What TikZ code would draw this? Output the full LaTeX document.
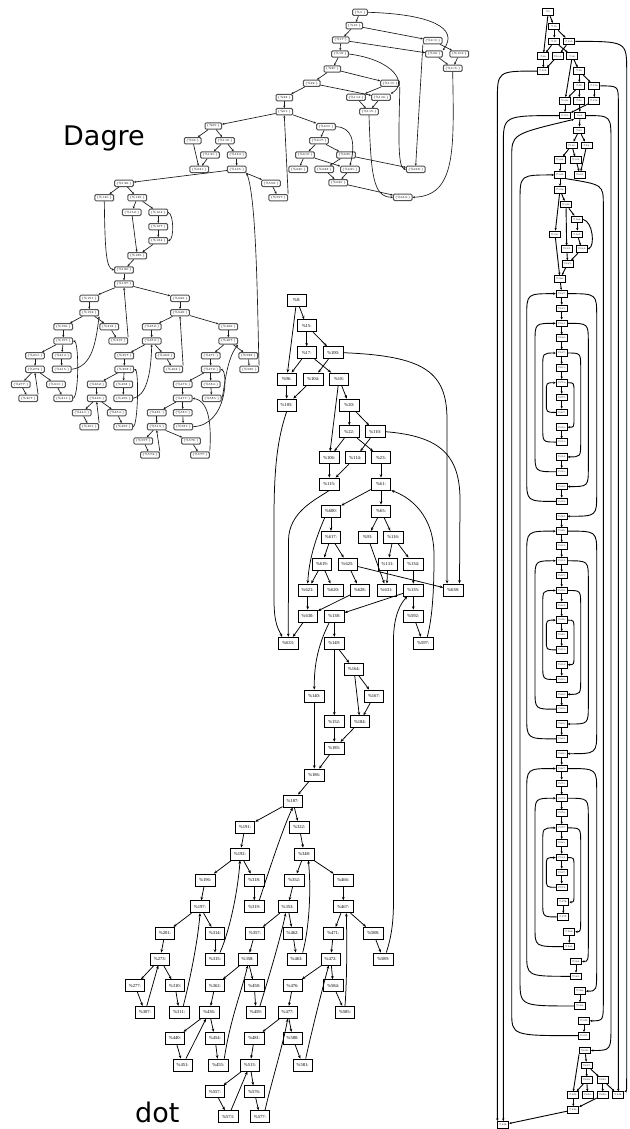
\documentclass[tikz,border=0pt]{standalone}
\usepackage{fontspec}
\usetikzlibrary{arrows.meta,calc}
\newfontfamily\labfont{DejaVu Sans}
\newfontfamily\dotfont{Liberation Serif}
\tikzset{
  dotnode/.style={draw, line width=0.9pt, fill=white, minimum width=19.5pt, minimum height=12pt, inner sep=0pt, font=\dotfont\fontsize{4.6}{5}\selectfont},
  dagnode/.style={draw=black!68, line width=1pt, rounded corners=1.2pt, fill=white, minimum height=6.4pt, inner xsep=1.8pt, inner ysep=0pt, font=\fontsize{3}{3}\selectfont},
  rnode/.style={draw, line width=0.9pt, fill=white, minimum width=11pt, minimum height=6.6pt, inner sep=0pt, font=\fontsize{2.3}{2.5}\selectfont},
  dotedge/.style={-{Stealth[length=3.3pt,width=2.7pt]}, line width=0.75pt},
  dagedge/.style={-{Stealth[length=2.3pt,width=2.1pt]}, line width=0.65pt, draw=black!90},
  redge/.style={-{Stealth[length=2.5pt,width=2.3pt]}, line width=0.9pt},
  bigtext/.style={font=\labfont\fontsize{27}{30}\selectfont, inner sep=0pt}
}
\newcommand\DotN[3]{\node[dotnode] (d#1) at (#2,#3) {\%#1:};}
\newcommand\DagN[3]{\node[dagnode] (g#1) at (#2,#3) {\{\%#1:\}};}
\newcommand\RtN[3]{\node[rnode] (r#1) at (#2,{11.7+#3*14.84}) {\%#1:};}
% left loop: from lower node #1 up to upper node #2 along lane #3, corner depth #4
\newcommand\RLft[4]{\draw[redge] (r#1.west) .. controls (#3 |- r#1.west) .. ($(#3 |- r#1.west)+(0,-#4)$) -- ($(#3 |- r#2.west)+(0,#4)$) .. controls (#3 |- r#2.west) .. (r#2.west);}
% right loop: from upper node #1 down to lower node #2 along lane #3
\newcommand\RRgt[4]{\draw[redge] (r#1.east) .. controls (#3 |- r#1.east) .. ($(#3 |- r#1.east)+(0,#4)$) -- ($(#3 |- r#2.east)+(0,-#4)$) .. controls (#3 |- r#2.east) .. (r#2.east);}
\begin{document}
\begin{tikzpicture}[x=1pt,y=-1pt]
\useasboundingbox (0,0) rectangle (629,1129);
\fill[white] (0,0) rectangle (629,1129);

% ---------- captions ----------
\node[bigtext, anchor=base west] (tdagre) at (63,146) {Dagre};
\node[bigtext, anchor=base west] (tdot) at (135,1122) {dot};

% ---------- Dagre layout ----------
\DagN{0}{360}{12.3}
\DagN{15}{354.3}{25.7}
\DagN{17}{340.7}{40}
\DagN{100}{432.7}{40.7}
\DagN{18}{340}{54}
\DagN{96}{434}{54}
\DagN{104}{459.3}{54}
\DagN{105}{452.7}{68.3}
\DagN{20}{332.3}{69}
\DagN{22}{311.7}{83.3}
\DagN{110}{390}{83.3}
\DagN{23}{284.3}{97.7}
\DagN{114}{356}{97.3}
\DagN{106}{381}{97.3}
\DagN{61}{284.3}{111.7}
\DagN{115}{369}{111.7}
\DagN{600}{326}{126.7}
\DagN{65}{213.3}{126}
\DagN{617}{319}{140.7}
\DagN{93}{192.7}{140.7}
\DagN{116}{225}{140.7}
\DagN{619}{305}{155}
\DagN{625}{346}{155}
\DagN{131}{210}{155}
\DagN{134}{236.7}{155}
\DagN{620}{298.3}{169.3}
\DagN{628}{324.3}{169.3}
\DagN{621}{350}{169.3}
\DagN{638}{415.7}{169.3}
\DagN{631}{199.3}{169.3}
\DagN{135}{236.7}{169.3}
\DagN{630}{338.3}{182.7}
\DagN{138}{124}{183.3}
\DagN{592}{271}{183.3}
\DagN{633}{402.7}{197.3}
\DagN{140}{104.3}{197.7}
\DagN{149}{137.3}{197.7}
\DagN{597}{278.3}{197.7}
\DagN{152}{131.7}{212.3}
\DagN{164}{158.3}{212.3}
\DagN{167}{158.3}{226.7}
\DagN{184}{158.3}{240.7}
\DagN{185}{137.3}{255.7}
\DagN{186}{124}{270}
\DagN{187}{124}{284}
\DagN{191}{89.3}{298.3}
\DagN{322}{180}{298.3}
\DagN{192}{89.3}{312.7}
\DagN{348}{180}{312.7}
\DagN{196}{63.3}{326.7}
\DagN{318}{109.3}{326.7}
\DagN{352}{151.7}{326.7}
\DagN{466}{228.3}{326.7}
\DagN{197}{63.3}{341}
\DagN{319}{118.3}{341}
\DagN{353}{151.7}{341}
\DagN{467}{228.3}{341}
\DagN{201}{35}{355.7}
\DagN{314}{61.7}{355.7}
\DagN{357}{124.3}{355.7}
\DagN{462}{165}{355.7}
\DagN{471}{210.7}{355.7}
\DagN{588}{248.3}{355.7}
\DagN{273}{35}{369.3}
\DagN{315}{61.7}{369.3}
\DagN{358}{124.3}{369.3}
\DagN{463}{173.3}{369.3}
\DagN{472}{210.7}{369.3}
\DagN{589}{249.3}{369.3}
\DagN{277}{20.7}{384.3}
\DagN{310}{56}{384.3}
\DagN{362}{96.7}{384.3}
\DagN{458}{123.3}{384.3}
\DagN{476}{182.7}{384.3}
\DagN{584}{210.7}{384.3}
\DagN{307}{28.3}{398.3}
\DagN{311}{63.3}{398.3}
\DagN{436}{96.7}{398.3}
\DagN{459}{123.3}{398.3}
\DagN{477}{182.7}{398.3}
\DagN{585}{211.7}{398.3}
\DagN{440}{81.7}{412.7}
\DagN{454}{116.7}{412.7}
\DagN{481}{156.7}{412.7}
\DagN{580}{182.7}{412.7}
\DagN{451}{89.3}{426.7}
\DagN{455}{123.3}{426.7}
\DagN{513}{156.7}{426.7}
\DagN{581}{183.3}{426.7}
\DagN{557}{143.3}{441}
\DagN{576}{191}{441}
\DagN{573}{150}{455}
\DagN{577}{200}{455}

\foreach \a/\b in {0/15, 15/17, 15/100, 17/18, 17/96, 100/104, 96/105, 104/105, 18/20, 20/22, 20/110, 22/23, 22/106, 110/114, 106/115, 114/115, 23/61, 61/600, 61/65, 600/617, 617/619, 617/625, 619/620, 619/621, 625/628, 625/638, 621/630, 628/630, 630/633, 65/93, 65/116, 93/631, 116/131, 116/134, 131/631, 134/135, 135/138, 135/592, 592/597, 138/140, 138/149, 149/152, 149/164, 164/167, 167/184, 152/185, 184/185, 185/186, 186/187, 187/191, 187/322, 191/192, 192/196, 192/318, 318/319, 196/197, 197/201, 197/314, 201/273, 314/315, 273/277, 273/310, 277/307, 310/311, 322/348, 348/352, 348/466, 352/353, 353/357, 353/462, 462/463, 357/358, 358/362, 358/458, 458/459, 362/436, 436/440, 436/454, 440/451, 454/455, 466/467, 467/471, 467/588, 471/472, 588/589, 472/476, 472/584, 584/585, 476/477, 477/481, 477/580, 580/581, 481/513, 513/557, 513/576, 557/573, 576/577}
  \draw[dagedge] (g\a) -- (g\b);
\foreach \a/\b in {319/187, 307/273, 463/348, 451/436, 573/513, 597/61}
  \draw[dagedge] (g\a.north east) -- (g\b.south);
\draw[dagedge] (g100.south west) -- (g638.north);
\draw[dagedge] (g0.east) .. controls (430,14) and (460,28) .. (g96.north east);
\draw[dagedge] (g18.east) .. controls (395,60) and (408,84) .. (g106.north east);
\draw[dagedge] (g105.south) .. controls (454,150) and (456,196) .. (g633.east);
\draw[dagedge] (g110.south east) .. controls (399,130) and (397,168) .. (g638.west);
\draw[dagedge] (g115.south) .. controls (371,175) and (373,197) .. (g633.west);
\draw[dagedge] (g600.east) .. controls (352,127) and (356,142) .. (g621.north);
\draw[dagedge] (g164.east) .. controls (174,214) and (174,239) .. (g184.east);
\draw[dagedge] (g140.south) .. controls (105,250) and (106,268) .. (g186.west);
\draw[dagedge] (g589.north east) .. controls (257.5,330) and (257.5,200) .. (g135.south east);
\draw[dagedge] (g315.east) .. controls (93,367) and (96,340) .. (g192.south east);
\draw[dagedge] (g311.east) .. controls (79,397) and (79,342) .. (g197.east);
\draw[dagedge] (g459.east) .. controls (146,396) and (151,375) .. (g353.south);
\draw[dagedge] (g455.east) .. controls (138,426) and (139,371) .. (g358.east);
\draw[dagedge] (g585.east) .. controls (224,397) and (225,360) .. (g467.south east);
\draw[dagedge] (g581.east) .. controls (228,425) and (228,371) .. (g472.east);
\draw[dagedge] (g577.north east) .. controls (211,430) and (211,401) .. (g477.east);

% ---------- dot layout ----------
\DotN{0}{296.7}{300}
\DotN{15}{306.7}{325.7}
\DotN{17}{306.7}{352.7}
\DotN{100}{333.3}{352.7}
\DotN{96}{286.7}{379}
\DotN{104}{313.3}{379}
\DotN{18}{339}{379}
\DotN{105}{286.7}{405}
\DotN{20}{349.3}{405}
\DotN{22}{349.3}{431.7}
\DotN{110}{375.3}{431.7}
\DotN{106}{329.3}{457.7}
\DotN{114}{355.3}{457.7}
\DotN{23}{381}{457.7}
\DotN{115}{329.3}{484}
\DotN{61}{381}{484}
\DotN{600}{331}{511}
\DotN{65}{381}{511}
\DotN{617}{331}{537.3}
\DotN{93}{367.7}{537.3}
\DotN{116}{393.3}{537.3}
\DotN{619}{322}{564}
\DotN{625}{347.7}{564}
\DotN{131}{387.7}{564}
\DotN{134}{413.3}{564}
\DotN{621}{307.7}{590}
\DotN{620}{333.3}{590}
\DotN{628}{360}{590}
\DotN{631}{386.7}{590}
\DotN{135}{413.3}{590}
\DotN{638}{453.3}{590}
\DotN{630}{307.7}{616}
\DotN{138}{334.3}{616}
\DotN{592}{413.3}{616}
\DotN{633}{288.3}{643.3}
\DotN{149}{334.3}{643.3}
\DotN{597}{423.3}{643.3}
\DotN{164}{354}{669.3}
\DotN{140}{314.3}{696}
\DotN{167}{374}{696}
\DotN{152}{334.3}{721.7}
\DotN{184}{360}{721.7}
\DotN{185}{334.3}{748.3}
\DotN{186}{314.3}{775}
\DotN{187}{292.7}{801}
\DotN{191}{245}{827.3}
\DotN{322}{299.3}{827.3}
\DotN{192}{240}{854}
\DotN{348}{304.3}{854}
\DotN{196}{205.3}{880}
\DotN{318}{254.3}{880}
\DotN{352}{294.3}{880}
\DotN{466}{343.3}{880}
\DotN{197}{200}{906.7}
\DotN{319}{254.3}{906.7}
\DotN{353}{287.7}{906.7}
\DotN{467}{343.3}{906.7}
\DotN{201}{165}{933.3}
\DotN{314}{215}{933.3}
\DotN{357}{255}{933.3}
\DotN{462}{292.7}{933.3}
\DotN{471}{333.3}{933.3}
\DotN{588}{373.3}{933.3}
\DotN{273}{160}{959}
\DotN{315}{215}{959}
\DotN{358}{247.7}{959}
\DotN{463}{296.7}{959}
\DotN{472}{330.7}{959}
\DotN{589}{383.3}{959}
\DotN{277}{135}{985.7}
\DotN{310}{175}{985.7}
\DotN{362}{215}{985.7}
\DotN{458}{254.3}{985.7}
\DotN{476}{292.7}{985.7}
\DotN{584}{333.3}{985.7}
\DotN{307}{145}{1012.3}
\DotN{311}{179.3}{1012.3}
\DotN{436}{209.3}{1012.3}
\DotN{459}{256}{1012.3}
\DotN{477}{287.7}{1012.3}
\DotN{585}{345}{1012.3}
\DotN{440}{175}{1038.3}
\DotN{454}{215}{1038.3}
\DotN{481}{254.3}{1038.3}
\DotN{580}{292.7}{1038.3}
\DotN{451}{182.7}{1065}
\DotN{455}{218.3}{1065}
\DotN{513}{250}{1065}
\DotN{581}{302.7}{1065}
\DotN{557}{215}{1091.7}
\DotN{576}{254.3}{1091.7}
\DotN{573}{228.3}{1116.7}
\DotN{577}{260}{1116.7}

\foreach \a/\b in {0/15, 0/96, 15/17, 15/100, 17/96, 17/18, 100/104, 96/105, 104/105, 18/20, 18/106, 20/22, 20/110, 22/106, 22/23, 110/114, 106/115, 114/115, 23/61, 61/600, 61/65, 600/617, 65/93, 65/116, 617/619, 617/625, 93/631, 116/131, 116/134, 619/621, 619/620, 625/628, 625/638, 131/631, 134/135, 621/630, 628/630, 135/138, 135/592, 630/633, 138/149, 592/597, 149/164, 149/152, 164/167, 164/184, 167/184, 152/185, 184/185, 140/186, 185/186, 186/187, 187/191, 187/322, 191/192, 192/196, 192/318, 318/319, 196/197, 197/201, 197/314, 201/273, 314/315, 273/277, 273/310, 277/307, 307/273, 310/311, 322/348, 348/352, 348/466, 352/353, 353/357, 353/462, 357/358, 462/463, 358/362, 358/458, 458/459, 362/436, 436/440, 436/454, 440/451, 451/436, 454/455, 466/467, 467/471, 467/588, 471/472, 588/589, 472/476, 472/584, 584/585, 476/477, 477/481, 477/580, 580/581, 481/513, 513/557, 513/576, 557/573, 573/513, 576/577}
  \draw[dotedge] (d\a) -- (d\b);
\draw[dotedge] (d100.east) .. controls (425,356) and (447,372) .. (447,420) -- ([xshift=4pt]d638.north west);
\draw[dotedge] (d110.east) .. controls (440,436) and (460,455) .. (460,500) -- ([xshift=-4pt]d638.north east);
\draw[dotedge] (d105.south) .. controls (277,440) and (274,470) .. (274,520) -- (274,600) .. controls (274,625) and (279,630) .. ([xshift=4pt]d633.north west);
\draw[dotedge] (d115.south) .. controls (315,500) and (289,512) .. (288.5,540) -- (d633.north);
\draw[dotedge] ([xshift=4pt]d600.south west) .. controls (315,540) and (309,560) .. (d621.north);
\draw[dotedge] ([xshift=4pt]d597.north) .. controls (433,615) and (434,585) .. (434,555) .. controls (434,515) and (410,497) .. (d61.south east);
\draw[dotedge] ([xshift=3pt]d589.north) .. controls (392,935) and (393.5,920) .. (393.5,900) -- (393.5,640) .. controls (393.5,615) and (401,603) .. ([xshift=-6pt]d135.south);
\draw[dotedge] ([xshift=5pt]d319.north) .. controls (266,880) and (282,830) .. (d187.south);
\draw[dotedge] ([xshift=5pt]d315.north) .. controls (230,930) and (238,890) .. (d192.south);
\draw[dotedge] ([xshift=4pt]d311.north) .. controls (190,980) and (198,940) .. (d197.south);
\draw[dotedge] ([xshift=6pt]d463.north) .. controls (310,925) and (311,885) .. ([xshift=4pt]d348.south);
\draw[dotedge] ([xshift=4pt]d459.north) .. controls (268,980) and (280,940) .. ([xshift=-2pt]d353.south);
\draw[dotedge] ([xshift=6pt]d455.north) .. controls (230,1020) and (242,990) .. (d358.south);
\draw[dotedge] (d585.north) .. controls (347,980) and (347,940) .. ([xshift=3pt]d467.south);
\draw[dotedge] ([xshift=3pt]d581.north) .. controls (312,1030) and (322,990) .. ([xshift=-2pt]d472.south);
\draw[dotedge] ([xshift=5pt]d577.north) .. controls (272,1080) and (283,1045) .. (d477.south);
\draw[dotedge] ([xshift=-5pt]d138.south) .. controls (318,645) and (314,665) .. (d140.north);

% ---------- right (tall) layout ----------
\coordinate (LA) at (526.7,0);
\coordinate (LB) at (535,0);
\coordinate (LC) at (542.7,0);
\coordinate (LD) at (546.3,0);
\coordinate (LE) at (520,0);
\coordinate (LF) at (511.7,0);
\coordinate (RA) at (596.7,0);
\coordinate (RB) at (588.3,0);
\coordinate (RC) at (580.7,0);
\coordinate (RD) at (574,0);
\coordinate (RE) at (603.3,0);
\coordinate (RF) at (611,0);
\coordinate (RH) at (626.7,0);

\RtN{0}{548.3}{0}
\RtN{15}{554.3}{1}
\RtN{17}{554.3}{2} \RtN{100}{569.3}{2}
\RtN{96}{543.3}{3} \RtN{104}{557.7}{3} \RtN{18}{572.3}{3}
\RtN{105}{543.3}{4} \RtN{20}{579.3}{4}
\RtN{22}{579.3}{5} \RtN{110}{594.3}{5}
\RtN{106}{565}{6} \RtN{23}{579.3}{6} \RtN{114}{594.3}{6}
\RtN{115}{565}{7} \RtN{61}{580}{7}
\RtN{65}{579.3}{8}
\RtN{116}{571.7}{9} \RtN{93}{586.7}{9}
\RtN{134}{560}{10} \RtN{131}{576}{10}
\RtN{135}{560}{11} \RtN{631}{580}{11}
\RtN{138}{560}{12}
\RtN{149}{566}{13}
\RtN{164}{577.3}{14}
\RtN{140}{555}{15} \RtN{167}{577.3}{15}
\RtN{152}{566.7}{16} \RtN{184}{581.7}{16}
\RtN{185}{567.7}{17}
\RtN{186}{560}{18}
\foreach \n [count=\i from 19] in {187,191,192,196,197,201,273,277,307,310,311,314,315,318,319,322,348,352,353,357,358,362,436,440,451,454,455,458,459,462,463,466,467,471,472,476,477,481,513,557,573}
  {\RtN{\n}{561.7}{\i}}
\RtN{576}{563.3}{60} \RtN{577}{563.3}{61}
\RtN{580}{569.3}{62} \RtN{581}{569.3}{63}
\RtN{584}{576}{64} \RtN{585}{576}{65}
\RtN{588}{580}{66} \RtN{589}{580}{67}
\RtN{592}{584}{68} \RtN{597}{584}{69}
\RtN{600}{585}{70}
\RtN{617}{586.7}{71}
\RtN{619}{586.7}{72} \RtN{625}{602.7}{72}
\RtN{621}{573.3}{73} \RtN{620}{587.7}{73} \RtN{628}{602.7}{73} \RtN{638}{618.3}{73}
\RtN{630}{573.3}{74}
\RtN{633}{503.3}{75}

\foreach \a/\b in {0/15, 0/96, 15/17, 15/100, 17/96, 17/18, 100/104, 96/105, 104/105, 18/20, 18/106, 20/22, 20/110, 22/106, 22/23, 110/114, 114/115, 106/115, 23/61, 61/65, 65/116, 65/93, 116/134, 116/131, 131/631, 93/631, 134/135, 135/138, 138/149, 138/140, 149/164, 149/152, 164/167, 167/184, 152/185, 184/185, 140/186, 185/186, 186/187, 187/191, 191/192, 192/196, 196/197, 197/201, 201/273, 273/277, 277/307, 310/311, 314/315, 318/319, 322/348, 348/352, 352/353, 353/357, 357/358, 358/362, 362/436, 436/440, 440/451, 454/455, 458/459, 462/463, 466/467, 467/471, 471/472, 472/476, 476/477, 477/481, 481/513, 513/557, 557/573, 576/577, 580/581, 584/585, 588/589, 592/597, 600/617, 617/619, 617/625, 619/621, 619/620, 625/628, 625/638, 621/630, 628/630, 630/633}
  \draw[redge] (r\a) -- (r\b);
\draw[redge] (r600.south west) -- (r621.north);
\draw[redge] (r164.east) .. controls (593,222) and (595,246) .. (r184.east);

% nested loops, three blocks
\RLft{307}{273}{LD}{9} \RLft{311}{197}{LC}{15} \RLft{315}{192}{LB}{19} \RLft{319}{187}{LA}{23}
\RRgt{273}{310}{RD}{9} \RRgt{197}{314}{RC}{15} \RRgt{192}{318}{RB}{19} \RRgt{187}{322}{RA}{23}
\RLft{451}{436}{LD}{9} \RLft{455}{358}{LC}{15} \RLft{459}{353}{LB}{19} \RLft{463}{348}{LA}{23}
\RRgt{436}{454}{RD}{9} \RRgt{358}{458}{RC}{15} \RRgt{353}{462}{RB}{19} \RRgt{348}{466}{RA}{23}
\RLft{573}{513}{LD}{9} \RLft{577}{477}{LC}{15} \RLft{581}{472}{LB}{19} \RLft{585}{467}{LA}{23}
\RRgt{513}{576}{RD}{9} \RRgt{477}{580}{RC}{15} \RRgt{472}{584}{RB}{19} \RRgt{467}{588}{RA}{23}
% outer long edges
\RLft{589}{135}{LE}{26}
\RRgt{61}{600}{RF}{26}
\draw[redge] (r597.west) .. controls (LF |- r597.west) .. ($(LF |- r597.west)+(0,-24)$) -- ($(LF |- r61.south)+(0,38)$) .. controls (LF |- r65.south) .. (r61.south west);
\draw[redge] (r135.south east) .. controls ($(RE |- r135.south)+(0,6)$) .. ($(RE |- r135)+(0,30)$) -- ($(RE |- r592.east)+(0,-20)$) .. controls (RE |- r592.east) .. (r592.east);
\draw[redge] (r110.east) .. controls (r638 |- r110.east) .. ($(r638 |- r110.east)+(0,16)$) -- (r638.north);
\draw[redge] (r100.east) .. controls (RH |- r100.east) .. (RH |- r20) -- (RH |- r617) .. controls (RH |- r638.north) .. (r638.north east);
\draw[redge] (r105.west) .. controls (r633.north west |- r105.west) .. ($(r633.north west |- r105.west)+(0,30)$) -- (r633.north west);
\draw[redge] (r115.west) .. controls (r633.north |- r115.west) .. ($(r633.north |- r115.west)+(0,30)$) -- (r633.north);
\end{tikzpicture}
\end{document}
